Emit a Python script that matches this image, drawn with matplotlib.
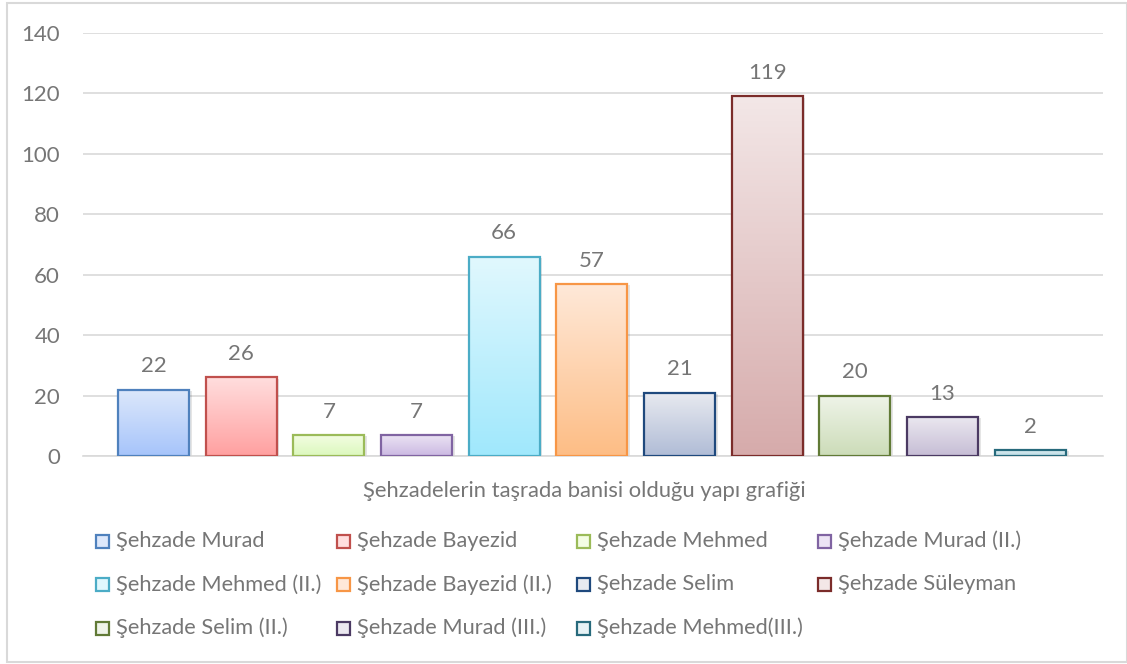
import numpy as np
import matplotlib.pyplot as plt
from matplotlib.patches import Rectangle
from matplotlib.colors import LinearSegmentedColormap
from matplotlib.transforms import offset_copy

plt.rcParams['font.family'] = ['Lato', 'DejaVu Sans']

# Building counts per prince
names = ['Şehzade Murad', 'Şehzade Bayezid', 'Şehzade Mehmed', 'Şehzade Murad (II.)',
         'Şehzade Mehmed (II.)', 'Şehzade Bayezid (II.)', 'Şehzade Selim', 'Şehzade Süleyman',
         'Şehzade Selim (II.)', 'Şehzade Murad (III.)', 'Şehzade Mehmed(III.)']
counts = [22, 26, 7, 7, 66, 57, 21, 119, 20, 13, 2]

# gradient fill (top, bottom) and outline for each series
top_colors = ['#dde8fb', '#ffdede', '#f3fde3', '#ece4f4', '#e1f8fe', '#ffe9d9',
              '#e8eaf0', '#f3e7e7', '#eff4e9', '#ebe8f0', '#e6f2f5']
bottom_colors = ['#a6c4fa', '#ffa0a0', '#dcf8bd', '#cbb9e2', '#a0e8fc', '#fdbd85',
                 '#b0bcd6', '#d6abab', '#ccdcb8', '#c6bdd5', '#b8d9e2']
edge_colors = ['#4f81bd', '#c0504d', '#9bbb59', '#8064a2', '#4bacc6', '#f79646',
               '#1f497d', '#7b2c2a', '#617a36', '#4b3a63', '#276a7c']

text_gray = '#767676'
grid_gray = '#d9d9d9'

fig = plt.figure(figsize=(11.27, 6.64), dpi=100)
W, H = 1127, 664

# outer chart frame
fig.patches.append(Rectangle((7 / W, 2 / H), 1 - 7 / W, 1 - 5 / H, transform=fig.transFigure,
                             fill=False, edgecolor=grid_gray, linewidth=1.5))

ax = fig.add_axes([83 / W, 1 - 456 / H, (1103 - 83) / W, (456 - 33) / H])
ax.set_yticks(np.arange(0, 141, 20))
ax.set_xticks([])
ax.grid(axis='y', color=grid_gray, linewidth=1.2)
ax.set_axisbelow(True)
for s in ['left', 'right', 'top']:
    ax.spines[s].set_visible(False)
ax.spines['bottom'].set_color(grid_gray)
ax.spines['bottom'].set_linewidth(1.2)
ax.tick_params(axis='y', length=0, pad=16.5, labelsize=16, labelcolor=text_gray)

x = np.arange(len(counts))
width = 0.81
bars = ax.bar(x, counts, width=width, facecolor='none', edgecolor='none', zorder=2)

grad = np.linspace(0, 1, 256).reshape(-1, 1)
shadow_tr = offset_copy(ax.transData, fig=fig, x=2, y=-1, units='points')
for i, b in enumerate(bars):
    x0, h = b.get_x(), b.get_height()
    # soft drop shadow behind the bar
    ax.add_patch(Rectangle((x0, 0), width, h, transform=shadow_tr, facecolor='#000000',
                           alpha=0.10, edgecolor='none', zorder=2.2))
    cmap = LinearSegmentedColormap.from_list(f'g{i}', [top_colors[i], bottom_colors[i]])
    im = ax.imshow(grad, cmap=cmap, aspect='auto', extent=[x0, x0 + width, 0, h],
                   origin='upper', zorder=2.5)
    im.set_clip_path(b)
    ax.add_patch(Rectangle((x0, 0), width, h, fill=False, edgecolor=edge_colors[i],
                           linewidth=1.6, zorder=3))
    ax.annotate(str(counts[i]), (x[i], h), xytext=(0, 9.5), textcoords='offset points',
                ha='center', va='bottom', fontsize=16, color=text_gray)

ax.set_xlim(-0.804, 10.83)
ax.set_ylim(0, 140)

fig.text(584 / W, 1 - 491 / H, 'Şehzadelerin taşrada banisi olduğu yapı grafiği',
         ha='center', va='center', fontsize=15.8, color=text_gray)

# legend laid out row by row, four entries per row
for i, name in enumerate(names):
    col, row = i % 4, i // 4
    lx = 96 + col * 240.7
    ly = 541 + row * 43.5
    sw = Rectangle((lx / W, 1 - (ly + 6.5) / H), 13 / W, 13 / H, transform=fig.transFigure,
                   facecolor=top_colors[i], edgecolor=edge_colors[i], linewidth=1.6)
    fig.patches.append(sw)
    fig.text((lx + 20) / W, 1 - ly / H, name, ha='left', va='center', fontsize=15.7,
             color=text_gray)

fig.savefig('out.png', dpi=100)
